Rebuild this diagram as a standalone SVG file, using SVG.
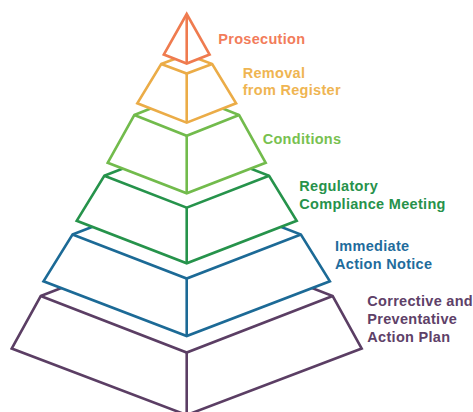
<svg xmlns="http://www.w3.org/2000/svg" width="473" height="412" viewBox="0 0 473 412">
  <style>
    .tier { fill: #ffffff; stroke-width: 2.6; stroke-linejoin: miter; }
    .ln { fill: none; stroke-width: 2.6; stroke-linejoin: miter; }
    .lbl { font-family: "Liberation Sans", Arial, sans-serif; font-weight: bold; font-size: 14.5px; letter-spacing: 0.3px; }
    .c6 { stroke: #5b3e64; } .t6 { fill: #5e4168; }
    .c5 { stroke: #1c6a96; } .t5 { fill: #1f6c9c; }
    .c4 { stroke: #26934b; } .t4 { fill: #27924b; }
    .c3 { stroke: #72bb4c; } .t3 { fill: #78c150; }
    .c2 { stroke: #ebac47; } .t2 { fill: #efb552; }
    .c1 { stroke: #ef7b4f; } .t1 { fill: #f27c5a; }
  </style>
  <rect width="473" height="412" fill="#ffffff"/>
  <g id="connectors"></g>
  <g id="tier-corrective">
    <polygon class="tier c6" points="40.7,296 186.7,239.5 332.7,296 361.7,348.5 186.7,415 11.7,348.5"/>
    <polyline class="ln c6" points="40.7,296 186.7,352.5 332.7,296"/>
    <line class="ln c6" x1="186.7" y1="352.5" x2="186.7" y2="415"/>
  </g>
  <g id="tier-immediate">
    <polygon class="tier c5" points="72.5,234.5 186.7,190.5 300.9,234.5 329.9,281.3 186.7,336 43.5,281.3"/>
    <polyline class="ln c5" points="72.5,234.5 186.7,278.5 300.9,234.5"/>
    <line class="ln c5" x1="186.7" y1="278.5" x2="186.7" y2="336"/>
  </g>
  <g id="tier-regulatory">
    <polygon class="tier c4" points="104.3,175.7 186.7,143.7 269.1,175.7 296.7,220.8 186.7,263.3 76.7,220.8"/>
    <polyline class="ln c4" points="104.3,175.7 186.7,207.7 269.1,175.7"/>
    <line class="ln c4" x1="186.7" y1="207.7" x2="186.7" y2="263.3"/>
  </g>
  <g id="tier-conditions">
    <polygon class="tier c3" points="134.3,115 186.7,94.2 239.1,115 265.7,162.8 186.7,193.3 107.7,162.8"/>
    <polyline class="ln c3" points="134.3,115 186.7,135.8 239.1,115"/>
    <line class="ln c3" x1="186.7" y1="135.8" x2="186.7" y2="193.3"/>
  </g>
  <g id="tier-removal">
    <polygon class="tier c2" points="161.2,64 186.7,54.5 212.2,64 236.1,103.3 186.7,122.7 137.3,103.3"/>
    <polyline class="ln c2" points="161.2,64 186.7,73.5 212.2,64"/>
    <line class="ln c2" x1="186.7" y1="73.5" x2="186.7" y2="122.7"/>
  </g>
  <g id="tier-prosecution">
    <polygon class="tier c1" points="186.7,14 209.6,54.5 186.7,63.5 163.8,54.5"/>
    <line class="ln c1" x1="186.7" y1="14" x2="186.7" y2="63.5"/>
  </g>
  <g id="labels">
    <text class="lbl t1" x="218.3" y="44">Prosecution</text>
    <text class="lbl t2" x="242.7" y="78.3">Removal</text>
    <text class="lbl t2" x="242.7" y="95">from Register</text>
    <text class="lbl t3" x="262.7" y="144">Conditions</text>
    <text class="lbl t4" x="299.3" y="191">Regulatory</text>
    <text class="lbl t4" x="299.3" y="208.7">Compliance Meeting</text>
    <text class="lbl t5" x="335" y="251.3">Immediate</text>
    <text class="lbl t5" x="335" y="269">Action Notice</text>
    <text class="lbl t6" x="367.3" y="306">Corrective and</text>
    <text class="lbl t6" x="367.3" y="323.8">Preventative</text>
    <text class="lbl t6" x="367.3" y="341.6">Action Plan</text>
  </g>
</svg>
